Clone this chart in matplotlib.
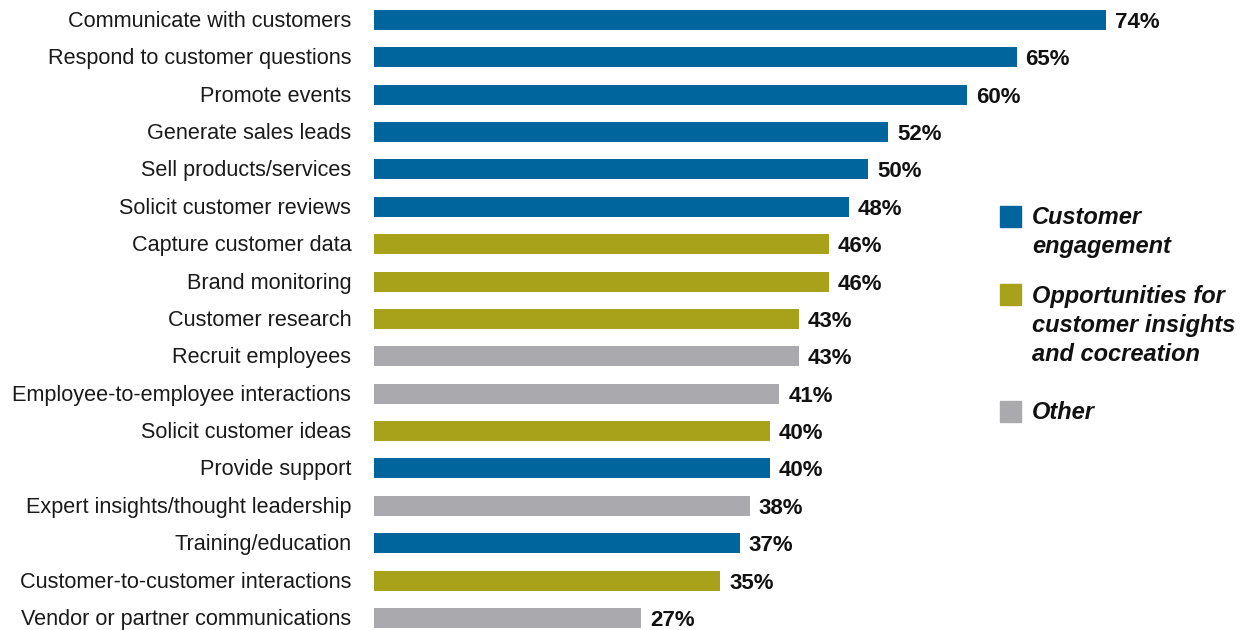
import matplotlib.pyplot as plt
from matplotlib.patches import Rectangle

# =========================
# DATOS
# =========================
categorias = [
    "Communicate with customers",
    "Respond to customer questions",
    "Promote events",
    "Generate sales leads",
    "Sell products/services",
    "Solicit customer reviews",
    "Capture customer data",
    "Brand monitoring",
    "Customer research",
    "Recruit employees",
    "Employee-to-employee interactions",
    "Solicit customer ideas",
    "Provide support",
    "Expert insights/thought leadership",
    "Training/education",
    "Customer-to-customer interactions",
    "Vendor or partner communications",
]
valores = [74, 65, 60, 52, 50, 48, 46, 46, 43, 43, 41, 40, 40, 38, 37, 35, 27]
grupos = ["eng", "eng", "eng", "eng", "eng", "eng", "opp", "opp", "opp", "oth",
          "oth", "opp", "eng", "oth", "eng", "opp", "oth"]

COLORES = {"eng": "#00659d", "opp": "#a8a21b", "oth": "#a9a9ae"}
leyenda = [
    ("eng", "Customer\nengagement"),
    ("opp", "Opportunities for\ncustomer insights\nand cocreation"),
    ("oth", "Other"),
]

plt.rcParams["font.family"] = ["Liberation Sans", "DejaVu Sans"]

# =========================
# FIGURA
# =========================
W, H = 1240, 630
fig = plt.figure(figsize=(W / 100, H / 100), dpi=100)
ax = fig.add_axes([374 / W, 0, 791 / W, 1])

paso = 37.375
ys = list(range(len(categorias)))
ax.barh(ys, valores, height=20 / paso, color=[COLORES[g] for g in grupos])
ax.set_xlim(0, 80)
ax.set_ylim((H - 20) / paso, -20 / paso)
ax.axis("off")

for y, v, c in zip(ys, valores, categorias):
    ax.text(v + 0.9, y + 8 / paso, f"{v}%", va="baseline", ha="left",
            fontsize=16, fontweight="bold", color="#111111")
    ax.text(-2.3, y + 7 / paso, c, va="baseline", ha="right",
            fontsize=15.6, color="#1a1a1a")

# leyenda manual
cuadros_y = [206, 284, 401]
textos_y = [206, 285, 401]
for (g, txt), py, ty in zip(leyenda, cuadros_y, textos_y):
    fig.patches.append(Rectangle((1000 / W, 1 - (py + 21) / H), 21 / W, 21 / H,
                                 transform=fig.transFigure, color=COLORES[g]))
    fig.text(1032 / W, 1 - ty / H, txt, ha="left", va="top",
             fontsize=17, fontweight="bold", fontstyle="italic",
             linespacing=1.33, color="#111111")

fig.savefig("out.png", dpi=100)
